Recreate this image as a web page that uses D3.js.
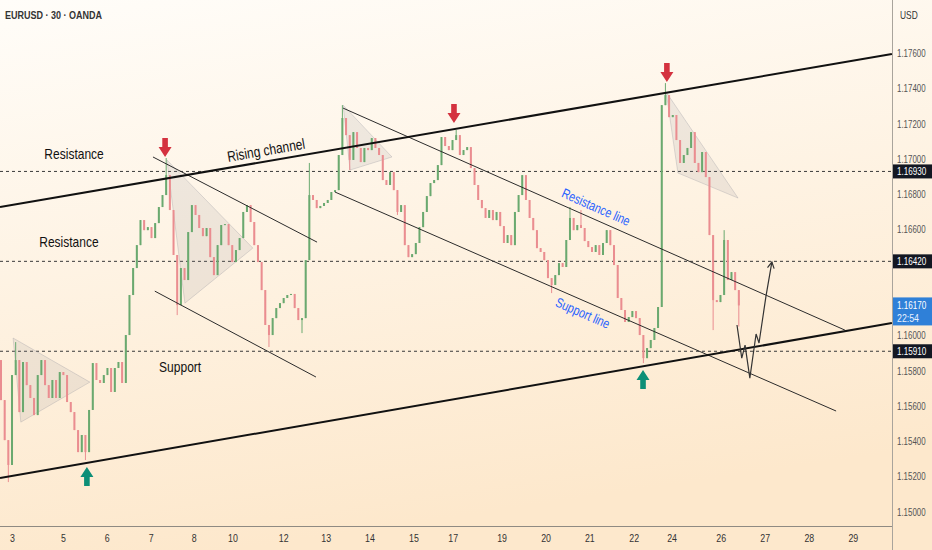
<!DOCTYPE html>
<html>
<head>
<meta charset="utf-8">
<script src="https://cdn.jsdelivr.net/npm/d3@7"></script>
<style>
  html, body { margin: 0; padding: 0; background: #fdf6ec; }
  svg { display: block; }
  text { font-family: "Liberation Sans", "Roboto", sans-serif; }
</style>
</head>
<body>
<svg id="chart" width="932" height="550"></svg>
<script>
'use strict';

// EURUSD 30m, sampled as 2h bars (12 per trading day)
var firstOpen = 1.15860;
var closes = [
    1.15633, 1.15406, 1.15265, 1.15775, 1.15860, 1.15565, 1.15849, 1.15718, 1.15645, 1.15548, 1.15775, 1.15860,
    1.15718, 1.15645, 1.15747, 1.15645, 1.15792, 1.15775, 1.15622, 1.15565, 1.15463, 1.15338, 1.15435, 1.15338,
    1.15577, 1.15843, 1.15747, 1.15730, 1.15775, 1.15815, 1.15679, 1.15815, 1.15849, 1.15730, 1.16002, 1.16229,
    1.16382, 1.16512, 1.16654, 1.16597, 1.16614, 1.16552, 1.16637, 1.16728, 1.16796, 1.16909, 1.16711, 1.16456,
    1.16172, 1.16382, 1.16314, 1.16586, 1.16739, 1.16683, 1.16609, 1.16563, 1.16609, 1.16444, 1.16342, 1.16512,
    1.16626, 1.16631, 1.16512, 1.16416, 1.16484, 1.16552, 1.16700, 1.16739, 1.16643, 1.16512, 1.16416, 1.16257,
    1.16059, 1.16002, 1.16098, 1.16155, 1.16183, 1.16212, 1.16229, 1.16235, 1.16155, 1.16087, 1.16098, 1.16427,
    1.16796, 1.16768, 1.16722, 1.16734, 1.16751, 1.16768, 1.16813, 1.16824, 1.17023, 1.17233, 1.17136, 1.16995,
    1.17153, 1.17063, 1.16983, 1.17063, 1.17051, 1.17119, 1.17063, 1.17023, 1.16881, 1.16853, 1.16926, 1.16824,
    1.16700, 1.16739, 1.16512, 1.16444, 1.16461, 1.16524, 1.16614, 1.16700, 1.16790, 1.16864, 1.16881, 1.16966,
    1.17125, 1.17074, 1.17051, 1.17108, 1.17136, 1.17023, 1.17051, 1.17068, 1.16949, 1.16853, 1.16768, 1.16722,
    1.16666, 1.16711, 1.16654, 1.16700, 1.16620, 1.16524, 1.16569, 1.16512, 1.16700, 1.16796, 1.16909, 1.16768,
    1.16666, 1.16597, 1.16495, 1.16473, 1.16427, 1.16325, 1.16286, 1.16342, 1.16410, 1.16388, 1.16541, 1.16666,
    1.16597, 1.16626, 1.16609, 1.16535, 1.16501, 1.16473, 1.16512, 1.16456, 1.16524, 1.16597, 1.16512, 1.16399,
    1.16212, 1.16144, 1.16076, 1.16104, 1.16138, 1.16098, 1.16002, 1.15871, 1.15928, 1.15974, 1.16042, 1.16161,
    1.17306, 1.17363, 1.17238, 1.17250, 1.17108, 1.16978, 1.17023, 1.17063, 1.17153, 1.16978, 1.16926, 1.17040,
    1.16898, 1.16569, 1.16200, 1.16189, 1.16229, 1.16541, 1.16314, 1.16359, 1.16257, 1.16170
];
// wick extremes that stick out of the bodies (bar index -> price)
var wickHighs = {4: 1.15962, 45: 1.17006, 84: 1.16978, 93: 1.17306, 124: 1.17165, 155: 1.16728, 158: 1.16711, 181: 1.17431, 197: 1.16597};
var wickLows = {2: 1.15168, 23: 1.15293, 48: 1.16115, 73: 1.15934, 82: 1.16013, 95: 1.16938, 108: 1.16683, 150: 1.16240, 175: 1.15843, 194: 1.16030, 201: 1.16050};

var dayLabels = ['3', '5', '6', '7', '8', '10', '12', '13', '14', '15', '17', '19', '20', '21', '22', '24', '26', '27', '28', '29'];
var dayBars = [3.1, 17.0, 28.9, 40.9, 52.6, 63.2, 77.0, 88.6, 100.5, 112.5, 123.2, 136.5, 148.5, 160.4, 172.5, 182.8, 196.2, 208.2, 220.2, 232.2];
var priceTicks = [1.150, 1.152, 1.154, 1.156, 1.158, 1.160, 1.162, 1.164, 1.166, 1.168, 1.170, 1.172, 1.174, 1.176];

var levels = [1.1693, 1.1642, 1.1591];
var lastPrice = 1.1617, countdown = '22:54';

// drawings: [bar, price] pairs
var risingUpper = [[-0.27, 1.16728], [242.7, 1.17596]];
var risingLower = [[-0.27, 1.15191], [242.7, 1.16070]];
var flagLines = [
    [[41.4, 1.17012], [86.1, 1.16529]],
    [[41.9, 1.16251], [85.8, 1.15764]],
    [[93.2, 1.17289], [229.9, 1.16030]],
    [[91.0, 1.16813], [227.5, 1.15571]]
];
var triangles = [
    [[3.3, 1.15985], [24.2, 1.15735], [5.4, 1.15508]],
    [[45.2, 1.16995], [68.6, 1.16495], [50.1, 1.16183]],
    [[93.2, 1.17306], [106.5, 1.17012], [95.1, 1.16938]],
    [[181.2, 1.17380], [200.8, 1.16779], [184.4, 1.16921]]
];
var projection = [[200.5, 1.16059], [201.8, 1.15871], [202.7, 1.15945], [204.0, 1.15758], [205.7, 1.16008], [206.5, 1.15957], [208.4, 1.16223], [210.0, 1.16416]];
var downArrows = [[44.7, 1.17012], [123.4, 1.17204], [181.4, 1.17437]];
var upArrows = [[23.4, 1.15253], [174.9, 1.15803]];
var labels = [
    {text: 'Resistance', at: [19.9, 1.17029]},
    {text: 'Resistance', at: [18.5, 1.16529]},
    {text: 'Support', at: [48.8, 1.15820]},
    {text: 'Rising channel', at: [72.2, 1.17051], along: risingUpper},
    {text: 'Resistance line', at: [162.1, 1.16728], along: flagLines[2], blue: true},
    {text: 'Support line', at: [158.5, 1.16127], along: flagLines[3], blue: true}
];

var W = 932, H = 550, plotR = 892, plotB = 526;
var svg = d3.select('#chart');

var x = d3.scaleLinear().domain([0, 243]).range([1, 893]);
var y = d3.scaleLinear().domain([1.150, 1.176]).range([511.7, 53.3]);
var fmt = d3.format('.5f');

// squeeze text horizontally, the reference uses a condensed face
function squeeze(sel, k) {
    sel.each(function() {
        var w = this.getComputedTextLength();
        d3.select(this).attr('textLength', w * k).attr('lengthAdjust', 'spacingAndGlyphs');
    });
}

var defs = svg.append('defs');
var grad = defs.append('linearGradient').attr('id', 'bg')
    .attr('x1', 0).attr('y1', 0).attr('x2', 0.25).attr('y2', 1);
grad.append('stop').attr('offset', 0).attr('stop-color', '#fffdf9');
grad.append('stop').attr('offset', 1).attr('stop-color', '#fde8cc');
defs.append('clipPath').attr('id', 'plot').append('rect')
    .attr('width', plotR).attr('height', plotB);

svg.append('rect').attr('width', W).attr('height', H).attr('fill', 'url(#bg)');

var plot = svg.append('g').attr('clip-path', 'url(#plot)');

// horizontal levels
plot.selectAll('.level').data(levels).enter().append('line')
    .attr('x1', 0).attr('x2', plotR)
    .attr('y1', function(d) { return y(d); }).attr('y2', function(d) { return y(d); })
    .attr('stroke', '#3a3a3a').attr('stroke-width', 1).attr('stroke-dasharray', '3,3');

// triangles
plot.selectAll('.tri').data(triangles).enter().append('polygon')
    .attr('points', function(d) { return d.map(function(p) { return x(p[0]) + ',' + y(p[1]); }).join(' '); })
    .attr('fill', 'rgba(140,140,150,0.14)').attr('stroke', 'rgba(150,150,160,0.4)').attr('stroke-width', 0.8);

// candles
var bars = closes.map(function(c, i) {
    var o = i === 0 ? firstOpen : closes[i - 1];
    return {
        i: i, o: o, c: c,
        h: wickHighs[i] !== undefined ? wickHighs[i] : Math.max(o, c),
        l: wickLows[i] !== undefined ? wickLows[i] : Math.min(o, c)
    };
});
function candleColor(d) { return d.c >= d.o ? '#6aa96f' : '#ea8d90'; }
var candle = plot.selectAll('.candle').data(bars).enter().append('g');
candle.append('line')
    .attr('x1', function(d) { return x(d.i); }).attr('x2', function(d) { return x(d.i); })
    .attr('y1', function(d) { return y(d.h); }).attr('y2', function(d) { return y(d.l); })
    .attr('stroke', candleColor).attr('stroke-width', 1);
candle.append('rect')
    .attr('x', function(d) { return x(d.i) - 1; }).attr('width', 2)
    .attr('y', function(d) { return y(Math.max(d.o, d.c)); })
    .attr('height', function(d) { return Math.max(1, Math.abs(y(d.o) - y(d.c))); })
    .attr('fill', candleColor);

var line = d3.line().x(function(p) { return x(p[0]); }).y(function(p) { return y(p[1]); });

plot.selectAll('.flag').data(flagLines).enter().append('path')
    .attr('d', line).attr('fill', 'none').attr('stroke', '#2b2b2b').attr('stroke-width', 1);
plot.selectAll('.rising').data([risingUpper, risingLower]).enter().append('path')
    .attr('d', line).attr('fill', 'none').attr('stroke', '#111').attr('stroke-width', 2);

// projected path with open arrow head
plot.append('path').attr('d', line(projection))
    .attr('fill', 'none').attr('stroke', '#333').attr('stroke-width', 1.2);
var pA = projection[projection.length - 2], pB = projection[projection.length - 1];
var ang = Math.atan2(y(pB[1]) - y(pA[1]), x(pB[0]) - x(pA[0]));
plot.append('path')
    .attr('d', d3.line()([
        [x(pB[0]) - 7 * Math.cos(ang - 0.5), y(pB[1]) - 7 * Math.sin(ang - 0.5)],
        [x(pB[0]), y(pB[1])],
        [x(pB[0]) - 7 * Math.cos(ang + 0.5), y(pB[1]) - 7 * Math.sin(ang + 0.5)]
    ]))
    .attr('fill', 'none').attr('stroke', '#333').attr('stroke-width', 1.2);

// signal arrows (tip at the given point)
function arrowPath(dir) {
    // dir = 1 pointing down, -1 pointing up
    var pts = [[0, 0], [6.5, -10 * dir], [2.8, -10 * dir], [2.8, -19 * dir], [-2.8, -19 * dir], [-2.8, -10 * dir], [-6.5, -10 * dir]];
    return d3.line()(pts) + 'Z';
}
plot.selectAll('.down').data(downArrows).enter().append('path')
    .attr('transform', function(d) { return 'translate(' + x(d[0]) + ',' + y(d[1]) + ')'; })
    .attr('d', arrowPath(1)).attr('fill', '#d4323f');
plot.selectAll('.up').data(upArrows).enter().append('path')
    .attr('transform', function(d) { return 'translate(' + x(d[0]) + ',' + y(d[1]) + ')'; })
    .attr('d', arrowPath(-1)).attr('fill', '#0d8f77');

// text labels
plot.selectAll('.lbl').data(labels).enter().append('text')
    .attr('transform', function(d) {
        var a = 0;
        if (d.along) {
            var p0 = d.along[0], p1 = d.along[1];
            a = Math.atan2(y(p1[1]) - y(p0[1]), x(p1[0]) - x(p0[0])) * 180 / Math.PI;
        }
        return 'translate(' + x(d.at[0]) + ',' + y(d.at[1]) + ') rotate(' + a + ')';
    })
    .attr('text-anchor', 'middle').attr('dy', '0.35em')
    .attr('font-size', function(d) { return d.blue ? 13.5 : 15; })
    .attr('fill', function(d) { return d.blue ? '#2962ff' : '#111'; })
    .text(function(d) { return d.text; })
    .call(squeeze, 0.8);

// axes frame
svg.append('line').attr('x1', plotR + 0.5).attr('x2', plotR + 0.5).attr('y1', 0).attr('y2', H)
    .attr('stroke', '#a9a49c').attr('stroke-width', 1);
svg.append('line').attr('x1', 0).attr('x2', plotR).attr('y1', plotB + 0.5).attr('y2', plotB + 0.5)
    .attr('stroke', '#8f8a82').attr('stroke-width', 1);

// price axis, ticks hidden behind the price tags are left out
var tagged = levels.concat([lastPrice]);
var shownTicks = priceTicks.filter(function(t) {
    return tagged.every(function(p) { return Math.abs(y(t) - y(p)) > 9; });
});
svg.selectAll('.ptick').data(shownTicks).enter().append('text')
    .attr('transform', function(d) { return 'translate(897,' + y(d) + ') scale(0.72,1)'; })
    .attr('dy', '0.35em')
    .attr('font-size', 11).attr('fill', '#555')
    .text(function(d) { return fmt(d); });
svg.append('text').attr('transform', 'translate(900,15) scale(0.8,1)').attr('dy', '0.35em')
    .attr('font-size', 10.5).attr('fill', '#333').text('USD');

var tag = svg.selectAll('.tag').data(levels).enter().append('g')
    .attr('transform', function(d) { return 'translate(893,' + y(d) + ')'; });
tag.append('rect').attr('x', 0).attr('y', -7).attr('width', 39).attr('height', 14).attr('fill', '#131722');
tag.append('text').attr('transform', 'translate(4,0) scale(0.74,1)').attr('dy', '0.36em')
    .attr('font-size', 11).attr('fill', '#fff')
    .text(function(d) { return fmt(d); });

var last = svg.append('g').attr('transform', 'translate(893,' + y(lastPrice) + ')');
last.append('rect').attr('x', 0).attr('y', -8).attr('width', 39).attr('height', 28).attr('fill', '#2f80d8');
last.append('text').attr('transform', 'translate(4,0) scale(0.74,1)').attr('dy', '0.36em')
    .attr('font-size', 11).attr('fill', '#fff')
    .text(fmt(lastPrice));
last.append('text').attr('transform', 'translate(4,13) scale(0.8,1)').attr('dy', '0.36em')
    .attr('font-size', 11).attr('fill', '#e8f1ff')
    .text(countdown);

// time axis
svg.selectAll('.xtick').data(dayLabels).enter().append('text')
    .attr('transform', function(d, i) { return 'translate(' + x(dayBars[i]) + ',538) scale(0.8,1)'; })
    .attr('dy', '0.35em')
    .attr('text-anchor', 'middle').attr('font-size', 11).attr('fill', '#333')
    .text(function(d) { return d; });

svg.append('text').attr('transform', 'translate(5,15) scale(0.82,1)').attr('dy', '0.35em')
    .attr('font-size', 11).attr('font-weight', 'bold').attr('fill', '#333')
    .text('EURUSD \u00b7 30 \u00b7 OANDA');
</script>
</body>
</html>
